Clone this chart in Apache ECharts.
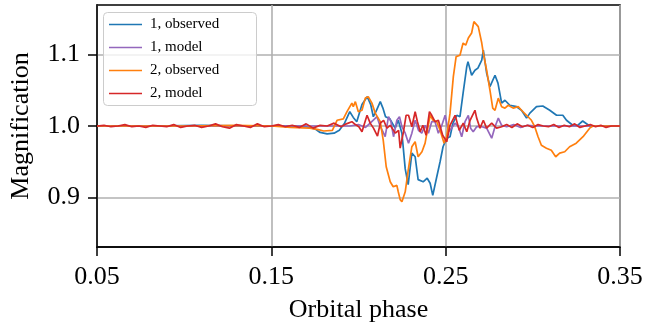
<!DOCTYPE html>
<html>
<head>
<meta charset="utf-8">
<script src="https://cdn.jsdelivr.net/npm/echarts@6/dist/echarts.min.js"></script>
<style>
  html, body { margin: 0; padding: 0; background: #fff; }
  #chart { width: 646px; height: 333px; }
</style>
</head>
<body>
<div id="chart"></div>
<script>
// 读图得到的数据 (phase, magnification)
var xTicks = [0.05, 0.15, 0.25, 0.35]
var yTicks = [0.9, 1.0, 1.1]

var obs1Phase = [0.050, 0.080, 0.110, 0.140, 0.160, 0.170, 0.175, 0.178, 0.182, 0.186, 0.189, 0.192, 0.195, 0.197, 0.199, 0.202, 0.205, 0.207, 0.2085, 0.210, 0.2125, 0.214, 0.2155, 0.218, 0.221, 0.2228, 0.2249, 0.2268, 0.2285, 0.2306, 0.2325, 0.2342, 0.2371, 0.2394, 0.2411, 0.2426, 0.2449, 0.2468, 0.2485, 0.2506, 0.2525, 0.2542, 0.2564, 0.2582, 0.2600, 0.2621, 0.2628, 0.2649, 0.2668, 0.2685, 0.2707, 0.2716, 0.2735, 0.2754, 0.2783, 0.2800, 0.2821, 0.2840, 0.2868, 0.2907, 0.2935, 0.2964, 0.2983, 0.3021, 0.3057, 0.3097, 0.3136, 0.3172, 0.3193, 0.3229, 0.3257, 0.3286, 0.3326, 0.340, 0.350]
var obs1Value = [1.000, 1.000, 1.001, 1.000, 1.000, 0.999, 0.996, 0.991, 0.989, 0.990, 0.994, 1.004, 1.020, 1.012, 1.006, 1.030, 1.041, 1.030, 1.013, 1.020, 1.034, 1.025, 1.013, 1.010, 0.997, 1.008, 0.990, 0.940, 0.918, 0.962, 0.957, 0.925, 0.922, 0.927, 0.920, 0.903, 0.929, 0.950, 0.971, 0.983, 0.985, 1.004, 1.015, 1.013, 1.046, 1.083, 1.090, 1.071, 1.078, 1.081, 1.092, 1.106, 1.074, 1.055, 1.071, 1.060, 1.032, 1.036, 1.029, 1.027, 1.022, 1.011, 1.018, 1.027, 1.028, 1.022, 1.015, 1.015, 1.008, 1.001, 1.001, 1.007, 1.000, 1.000, 1.000]

var model1Phase = [0.050, 0.100, 0.150, 0.195, 0.200, 0.204, 0.2067, 0.2106, 0.2125, 0.2140, 0.2153, 0.2172, 0.2186, 0.2201, 0.2220, 0.2235, 0.2249, 0.2268, 0.2287, 0.2306, 0.2325, 0.2344, 0.2363, 0.2382, 0.2401, 0.2420, 0.2439, 0.2458, 0.2478, 0.2497, 0.2516, 0.2535, 0.2554, 0.2573, 0.2592, 0.2611, 0.2630, 0.2643, 0.2658, 0.2678, 0.2707, 0.2735, 0.2764, 0.2783, 0.2802, 0.2821, 0.2850, 0.2890, 0.2930, 0.2970, 0.3020, 0.350]
var model1Value = [1.000, 1.000, 1.000, 1.000, 1.002, 0.998, 1.004, 1.013, 0.999, 0.992, 0.985, 1.013, 1.006, 0.985, 1.008, 1.013, 0.999, 0.990, 0.976, 0.990, 1.008, 0.994, 0.990, 1.001, 0.990, 1.006, 1.006, 0.990, 1.001, 1.015, 0.992, 0.997, 1.004, 0.999, 0.985, 1.006, 1.015, 0.997, 0.992, 0.999, 0.999, 0.997, 0.983, 0.999, 1.011, 1.001, 0.999, 1.002, 0.998, 1.001, 1.000, 1.000]

var obs2Phase = [0.050, 0.100, 0.130, 0.150, 0.161, 0.172, 0.177, 0.180, 0.185, 0.1877, 0.1913, 0.1934, 0.1962, 0.1970, 0.1982, 0.1999, 0.2020, 0.2039, 0.2056, 0.2077, 0.2096, 0.2125, 0.2142, 0.2159, 0.2182, 0.2199, 0.2220, 0.2228, 0.2239, 0.2249, 0.2268, 0.2285, 0.2306, 0.2325, 0.2342, 0.2364, 0.2382, 0.2399, 0.2411, 0.2428, 0.2449, 0.2468, 0.2491, 0.2506, 0.2525, 0.2544, 0.2560, 0.2582, 0.2600, 0.2615, 0.2630, 0.2649, 0.2662, 0.2672, 0.2687, 0.2707, 0.2716, 0.2735, 0.2754, 0.2770, 0.2783, 0.2802, 0.2821, 0.2840, 0.2859, 0.2887, 0.2916, 0.2935, 0.2964, 0.2992, 0.3011, 0.3030, 0.3049, 0.3078, 0.3106, 0.3131, 0.3154, 0.3183, 0.3211, 0.3249, 0.3288, 0.3326, 0.3345, 0.340, 0.350]
var obs2Value = [1.000, 1.000, 1.001, 1.000, 0.998, 0.997, 0.995, 0.993, 0.994, 1.008, 1.010, 1.020, 1.032, 1.027, 1.034, 1.020, 1.022, 1.039, 1.041, 1.032, 1.018, 1.006, 0.980, 0.943, 0.922, 0.915, 0.917, 0.908, 0.897, 0.894, 0.908, 0.938, 0.971, 0.978, 0.957, 0.964, 0.976, 0.999, 1.015, 1.008, 1.006, 0.994, 0.976, 0.985, 1.018, 1.069, 1.097, 1.099, 1.116, 1.113, 1.123, 1.130, 1.146, 1.148, 1.139, 1.116, 1.102, 1.078, 1.050, 1.025, 1.022, 1.039, 1.027, 1.025, 1.029, 1.025, 1.027, 1.022, 1.015, 1.008, 0.999, 0.985, 0.973, 0.969, 0.966, 0.957, 0.962, 0.964, 0.971, 0.976, 0.985, 0.997, 1.000, 1.000, 1.000]

var model2Phase = [0.050, 0.054, 0.058, 0.062, 0.066, 0.070, 0.074, 0.078, 0.082, 0.086, 0.090, 0.094, 0.098, 0.102, 0.106, 0.110, 0.114, 0.118, 0.122, 0.126, 0.130, 0.134, 0.138, 0.142, 0.146, 0.150, 0.154, 0.158, 0.162, 0.166, 0.170, 0.174, 0.178, 0.182, 0.186, 0.190, 0.193, 0.1962, 0.1982, 0.2002, 0.2020, 0.2030, 0.2049, 0.2067, 0.2086, 0.2109, 0.2125, 0.2144, 0.2163, 0.2182, 0.2211, 0.2230, 0.2239, 0.2258, 0.2273, 0.2287, 0.2306, 0.2325, 0.2338, 0.2354, 0.2369, 0.2388, 0.2407, 0.2420, 0.2439, 0.2458, 0.2483, 0.2506, 0.2525, 0.2554, 0.2578, 0.2601, 0.2621, 0.2640, 0.2668, 0.2678, 0.2697, 0.2716, 0.2735, 0.2764, 0.2792, 0.2821, 0.2850, 0.2880, 0.2910, 0.2940, 0.2970, 0.3000, 0.3030, 0.3060, 0.3090, 0.3120, 0.3150, 0.3180, 0.3210, 0.3240, 0.3270, 0.3300, 0.3330, 0.3360, 0.3390, 0.3420, 0.3450, 0.3500]
var model2Value = [1.000, 1.001, 0.999, 1.000, 1.002, 0.999, 1.000, 0.998, 1.001, 1.000, 0.999, 1.002, 0.998, 1.000, 1.001, 0.998, 1.000, 1.003, 0.999, 0.997, 1.002, 1.000, 0.998, 1.003, 0.999, 1.000, 1.002, 0.999, 1.001, 0.998, 1.003, 0.997, 1.001, 1.000, 1.004, 0.999, 1.003, 1.006, 1.002, 0.999, 0.992, 1.000, 1.015, 1.004, 0.997, 0.986, 1.004, 1.008, 0.997, 1.001, 0.990, 0.994, 0.969, 0.992, 1.015, 1.015, 0.999, 1.020, 1.006, 0.992, 1.001, 0.987, 1.020, 1.015, 1.006, 1.008, 0.987, 0.978, 1.001, 1.015, 0.994, 1.004, 0.992, 1.008, 1.022, 1.011, 0.997, 1.008, 0.997, 1.004, 0.997, 0.999, 1.002, 0.998, 1.003, 0.999, 1.001, 0.998, 1.002, 1.000, 0.999, 1.002, 0.998, 1.001, 0.999, 1.003, 0.998, 1.000, 1.002, 0.999, 1.001, 0.998, 1.000, 1.000]

var seriesNames = ['1, observed', '1, model', '2, observed', '2, model']
var colors = ['#1f77b4', '#9467bd', '#ff7f0e', '#d62728']

function pairs(xs, ys) {
  return xs.map(function(x, i) { return [x, ys[i]] })
}

var myChart = echarts.init(document.getElementById('chart'))
var font = 'Liberation Serif'

function lineSeries(name, xs, ys) {
  return {
    name: name,
    type: 'line',
    data: pairs(xs, ys),
    symbol: 'none',
    lineStyle: { width: 1.7 },
    animation: false
  }
}

var option = {
  color: colors,
  animation: false,
  grid: {
    left: 96,
    right: 26,
    top: 5,
    bottom: 86,
    show: true,
    borderColor: '#000',
    borderWidth: 1.5
  },
  // 图例的框单独画, 宽度和原图一致
  graphic: [{
    type: 'rect',
    left: 103,
    top: 12,
    z: 5,
    shape: { width: 153, height: 93, r: 4 },
    style: { fill: 'rgba(255,255,255,0.8)', stroke: '#cccccc', lineWidth: 1 }
  }],
  legend: {
    data: seriesNames,
    orient: 'vertical',
    left: 103,
    top: 12,
    z: 6,
    icon: 'path://M0,0 L33,0 L33,1.6 L0,1.6 Z',
    itemWidth: 33,
    itemHeight: 14,
    itemGap: 8,
    padding: [5, 6, 7, 6],
    formatter: function(name) { return '{n|' + name + '}' },
    textStyle: {
      fontFamily: font,
      fontSize: 15,
      color: '#000',
      rich: {
        n: { fontFamily: font, fontSize: 15, color: '#000', padding: [0, 0, 0, 3] }
      }
    }
  },
  xAxis: {
    type: 'value',
    min: 0.05,
    max: 0.35,
    interval: 0.1,
    name: 'Orbital phase',
    nameLocation: 'middle',
    nameGap: 50,
    nameTextStyle: { fontFamily: font, fontSize: 26, color: '#000' },
    axisLine: { lineStyle: { color: '#000', width: 1.5 } },
    axisTick: { length: 9, lineStyle: { color: '#000', width: 1.5 } },
    axisLabel: {
      fontFamily: font,
      fontSize: 26,
      color: '#000',
      margin: 17,
      formatter: function(v) { return v.toFixed(2) }
    },
    splitLine: { show: true, lineStyle: { color: '#b0b0b0', width: 1.6 } }
  },
  yAxis: {
    type: 'value',
    min: 0.8308,
    max: 1.1692,
    name: 'Magnification',
    nameLocation: 'middle',
    nameGap: 63,
    nameTextStyle: { fontFamily: font, fontSize: 26, color: '#000' },
    axisLine: { show: true, lineStyle: { color: '#000', width: 1.5 } },
    axisTick: { show: true, length: 9, customValues: yTicks, lineStyle: { color: '#000', width: 1.5 } },
    axisLabel: {
      fontFamily: font,
      fontSize: 26,
      color: '#000',
      margin: 17,
      customValues: yTicks,
      formatter: function(v) { return v.toFixed(1) }
    },
    splitLine: { show: true, lineStyle: { color: '#b0b0b0', width: 1.6 } }
  },
  series: [
    lineSeries(seriesNames[0], obs1Phase, obs1Value),
    lineSeries(seriesNames[1], model1Phase, model1Value),
    lineSeries(seriesNames[2], obs2Phase, obs2Value),
    lineSeries(seriesNames[3], model2Phase, model2Value)
  ]
}

myChart.setOption(option)
</script>
</body>
</html>
